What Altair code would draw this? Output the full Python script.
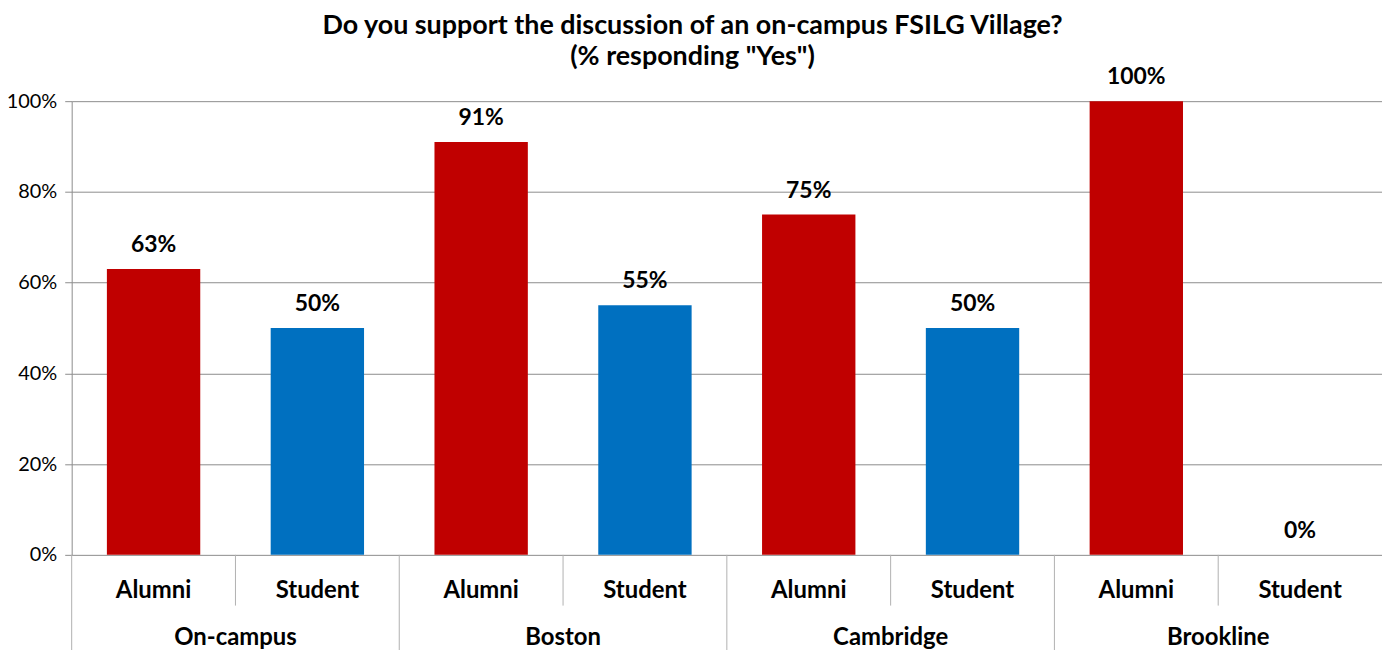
import altair as alt
import pandas as pd

groups = ["On-campus", "Boston", "Cambridge", "Brookline"]
subs = ["Alumni", "Student"]
alumni_pct = [63, 91, 75, 100]
student_pct = [50, 55, 50, 0]
y_ticks = [0, 0.2, 0.4, 0.6, 0.8, 1.0]
title_lines = ["Do you support the discussion of an on-campus FSILG Village?", '(% responding "Yes")']

rows = []
for g, a, s in zip(groups, alumni_pct, student_pct):
    rows.append({"group": g, "sub": "Alumni", "key": g + "|Alumni", "value": a / 100})
    rows.append({"group": g, "sub": "Student", "key": g + "|Student", "value": s / 100})
df = pd.DataFrame(rows)
keys = list(df["key"])

W = 1317
H = 456
STEP = W / len(keys)
FONT = "Lato"
GRAY = "#8c8c8c"

xs = alt.Scale(domain=keys, paddingInner=0.43, paddingOuter=0.215)
x_enc = alt.X("key:N", scale=xs, axis=None)

bars = alt.Chart(df).mark_bar().encode(
    x=x_enc,
    y=alt.Y("value:Q", scale=alt.Scale(domain=[0, 1], nice=False),
            axis=alt.Axis(values=y_ticks, format=".0%", title=None,
                          grid=True, gridColor=GRAY, gridWidth=1,
                          domainColor=GRAY, tickColor=GRAY, tickSize=7,
                          labelFont=FONT, labelFontSize=20, labelColor="#000",
                          labelPadding=8)),
    color=alt.Color("sub:N", scale=alt.Scale(domain=subs, range=["#C00000", "#0070C0"]), legend=None),
)

labels = alt.Chart(df).mark_text(font=FONT, fontSize=23, fontWeight="bold", dy=-17,
                                  baseline="alphabetic", color="#000").encode(
    x=x_enc,
    y=alt.Y("value:Q"),
    text=alt.Text("value:Q", format=".0%"),
)

sub_labels = alt.Chart(df).mark_text(font=FONT, fontSize=24, fontWeight="bold",
                                      baseline="alphabetic", color="#000").encode(
    x=x_enc,
    y=alt.value(H + 43),
    text="sub:N",
)

alumni_df = df[df["sub"] == "Alumni"]
student_df = df[df["sub"] == "Student"]

group_labels = alt.Chart(alumni_df).mark_text(font=FONT, fontSize=24, fontWeight="bold",
                                               baseline="alphabetic", color="#000",
                                               dx=STEP / 2).encode(
    x=x_enc,
    y=alt.value(H + 91),
    text="group:N",
)

sub_sep = alt.Chart(student_df).mark_rule(color="#b0b0b0", xOffset=-STEP / 2).encode(
    x=x_enc,
    y=alt.value(H),
    y2=alt.value(H + 51),
)

group_sep = alt.Chart(alumni_df).mark_rule(color="#b0b0b0", xOffset=-STEP / 2).encode(
    x=x_enc,
    y=alt.value(H),
    y2=alt.value(H + 110),
)

title = alt.Chart(pd.DataFrame({"t": [0]})).mark_text(
    font=FONT, fontSize=27, fontWeight="bold", color="#000", align="center",
    baseline="alphabetic", lineHeight=32, text=title_lines,
).encode(x=alt.value(624), y=alt.value(-68))

chart = alt.layer(bars, labels, sub_labels, group_labels, sub_sep, group_sep, title).properties(
    width=W, height=H,
    autosize=alt.AutoSizeParams(type="none"),
    padding={"left": 64, "top": 92, "right": 0, "bottom": 94},
).configure_view(stroke=None)

chart.save("out.html", embed_options={"renderer": "svg", "actions": False})
